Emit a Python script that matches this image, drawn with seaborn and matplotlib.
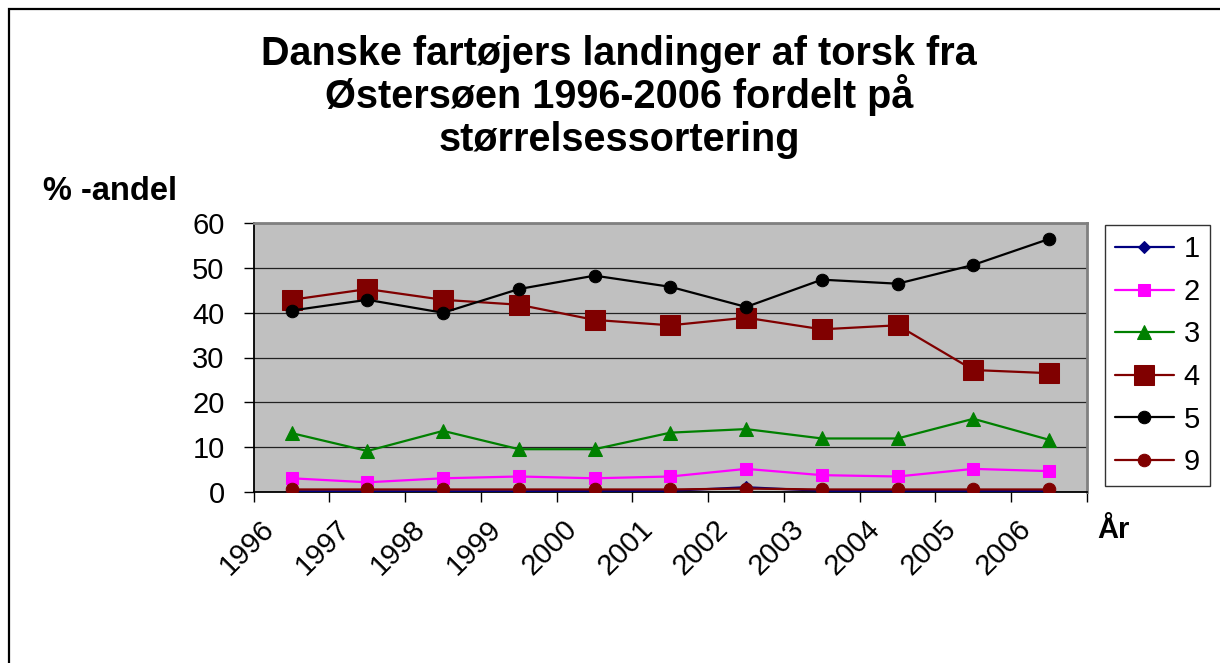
import matplotlib
matplotlib.use("Agg")
import matplotlib.pyplot as plt
import matplotlib.transforms as mtransforms
from matplotlib.patches import Rectangle
import seaborn as sns
import pandas as pd
import numpy as np

years = ["1996", "1997", "1998", "1999", "2000", "2001", "2002", "2003", "2004", "2005", "2006"]
s1 = [0.1, 0.1, 0.1, 0.1, 0.2, 0.2, 1.0, 0.2, 0.2, 0.2, 0.2]
s2 = [3.0, 2.1, 3.0, 3.4, 3.0, 3.4, 5.1, 3.7, 3.4, 5.1, 4.6]
s3 = [13.1, 9.1, 13.6, 9.5, 9.5, 13.2, 14.0, 11.9, 11.9, 16.3, 11.6]
s4 = [42.9, 45.3, 42.9, 41.8, 38.4, 37.2, 38.9, 36.3, 37.2, 27.2, 26.5]
s5 = [40.5, 42.9, 40.0, 45.3, 48.3, 45.8, 41.3, 47.4, 46.5, 50.7, 56.5]
s9 = [0.5, 0.5, 0.5, 0.5, 0.5, 0.5, 0.7, 0.5, 0.5, 0.5, 0.5]
series_names = ["1", "2", "3", "4", "5", "9"]
series_values = [s1, s2, s3, s4, s5, s9]

title_lines = ["Danske fartøjers landinger af torsk fra",
               "Østersøen 1996-2006 fordelt på",
               "størrelsessortering"]
y_label = "% -andel"
x_label = "År"

styles = {
    "1": dict(color="#000080", marker="D", ms=6.5),
    "2": dict(color="#FF00FF", marker="s", ms=8.6),
    "3": dict(color="#008000", marker="^", ms=10),
    "4": dict(color="#800000", marker="s", ms=14.4),
    "5": dict(color="#000000", marker="o", ms=9),
    "9": dict(color="#800000", marker="o", ms=9),
}

sns.set_theme(style="white")
plt.rcParams["font.family"] = ["Liberation Sans", "DejaVu Sans"]

W, H = 1220, 663
fig = plt.figure(figsize=(W / 100, H / 100), dpi=100)
fig.patch.set_facecolor("white")

# outer chart frame
fig.add_artist(Rectangle((9 / W, -0.05), 1.2, 1 - 9 / H + 0.05, transform=fig.transFigure,
                         fill=False, edgecolor="#000000", lw=1.6))

left, right, bottom, top = 253.7, 1087, 491.7, 223.3
ax = fig.add_axes([left / W, 1 - bottom / H, (right - left) / W, (bottom - top) / H])
ax.set_facecolor("#C0C0C0")

x_pos = np.arange(len(years))
for name, vals in zip(series_names, series_values):
    st = styles[name]
    df = pd.DataFrame({"x": x_pos, "y": vals})
    sns.lineplot(data=df, x="x", y="y", ax=ax, color=st["color"], marker=st["marker"],
                 markersize=st["ms"], markeredgecolor=st["color"], markerfacecolor=st["color"],
                 linewidth=1.6, label=name, estimator=None, zorder=3)

ax.set_xlim(-0.5, len(years) - 0.5)
ax.set_ylim(0, 60)
ax.set_yticks(range(0, 61, 10))
ax.yaxis.grid(True, color="#222222", lw=0.9)
ax.set_axisbelow(True)
ax.set_xlabel("")
ax.set_ylabel("")

ax.set_xticks(x_pos)
ax.set_xticklabels(years)
ax.set_xticks(np.arange(-0.5, len(years), 1.0), minor=True)
ax.tick_params(axis="x", which="major", length=0, pad=24, labelsize=21, colors="black")
ax.tick_params(axis="x", which="minor", length=7, width=1, direction="out", color="black", bottom=True)
ax.tick_params(axis="y", which="major", length=7, width=1, direction="out", color="black",
               left=True, pad=14, labelsize=21, labelcolor="black")

offset = mtransforms.ScaledTranslation(-22 / 100, 0, fig.dpi_scale_trans)
for lab in ax.get_xticklabels():
    lab.set_rotation(45)
    lab.set_rotation_mode("anchor")
    lab.set_ha("right")
    lab.set_va("center")
    lab.set_transform(lab.get_transform() + offset)

for side in ["left", "bottom"]:
    ax.spines[side].set_color("black")
    ax.spines[side].set_linewidth(1.3)
for side in ["top", "right"]:
    ax.spines[side].set_color("#808080")
    ax.spines[side].set_linewidth(2)

leg = ax.legend(loc="upper left", bbox_to_anchor=(1105 / W, 1 - 225 / H),
                bbox_transform=fig.transFigure, frameon=True, fancybox=False,
                fontsize=21, handlelength=2.0, handletextpad=0.35, labelspacing=0.5,
                borderpad=0.35, borderaxespad=0)
leg.get_frame().set_edgecolor("#000000")
leg.get_frame().set_linewidth(1.0)
for t in leg.get_texts():
    t.set_color("black")

baselines = [65, 108, 151]
for line, b in zip(title_lines, baselines):
    fig.text(619 / W, 1 - b / H, line, ha="center", va="baseline", fontsize=28.5,
             fontweight="bold", color="black")

fig.text(43 / W, 1 - 200 / H, y_label, ha="left", va="baseline", fontsize=23.5,
         fontweight="bold", color="black")
fig.text(1097 / W, 1 - 538 / H, x_label, ha="left", va="baseline", fontsize=21,
         fontweight="bold", color="black")

fig.savefig("out.png", dpi=100)
